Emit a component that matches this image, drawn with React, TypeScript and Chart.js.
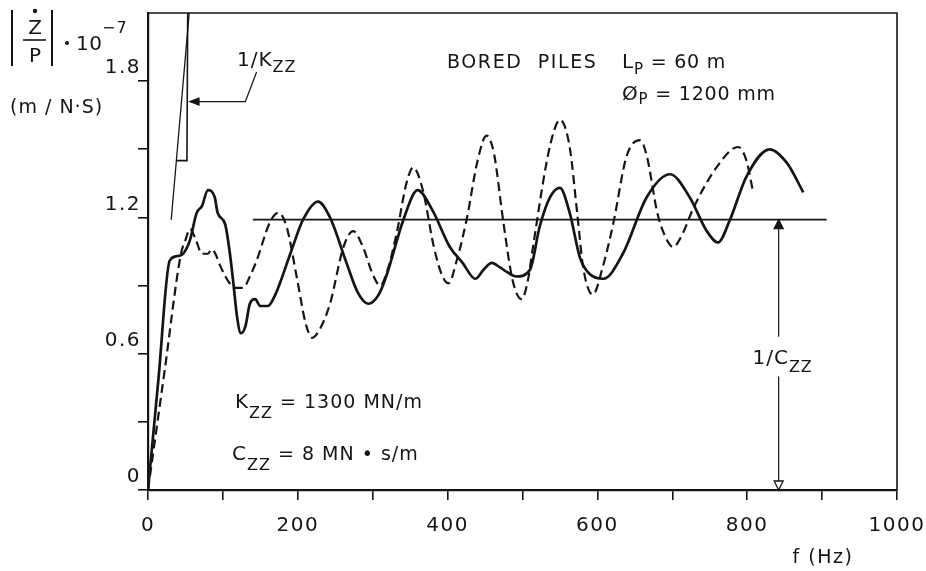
import React, { useEffect, useRef } from "react";
import { Chart, registerables } from "chart.js";

Chart.register(...registerables);

const W = 926;
const H = 571;
const FONT = '"DejaVu Sans", sans-serif';
const INK = "#151515";

// ---- axes ----
const xTickValues = [0, 100, 200, 300, 400, 500, 600, 700, 800, 900, 1000];
const xTickLabels = ["0", "", "200", "", "400", "", "600", "", "800", "", "1000"];
const yTickValues = [0, 0.3, 0.6, 0.9, 1.2, 1.5, 1.8];
const yTickLabels = ["0", "", "0.6", "", "1.2", "", "1.8"];

// ---- solid curve (measured) ----
const solidHz = [0, 14, 29, 40, 47, 56, 65, 72, 80, 89, 93, 103, 109, 114, 119, 124, 130, 136, 143, 150, 160, 170, 190, 207, 227, 243, 265, 280, 294, 308, 319, 341, 360, 380, 403, 420, 437, 448, 459, 470, 479, 492, 510, 523, 537, 550, 563, 577, 590, 608, 634, 666, 697, 723, 746, 761, 777, 799, 830, 853, 875];
const solidMobility = [0, 0.49, 1.01, 1.03, 1.04, 1.1, 1.22, 1.25, 1.32, 1.29, 1.22, 1.17, 1.05, 0.91, 0.76, 0.69, 0.72, 0.82, 0.84, 0.81, 0.81, 0.86, 1.04, 1.19, 1.27, 1.2, 1.0, 0.87, 0.82, 0.86, 0.95, 1.19, 1.32, 1.23, 1.07, 1.0, 0.93, 0.97, 1.0, 0.98, 0.96, 0.94, 0.97, 1.16, 1.29, 1.33, 1.22, 1.02, 0.95, 0.93, 1.04, 1.29, 1.39, 1.29, 1.14, 1.09, 1.19, 1.38, 1.5, 1.44, 1.31];

// ---- dashed curve (measured) ----
const dashedHz = [0, 22, 44, 50, 56, 64, 72, 80, 85, 90, 96, 109, 118, 127, 136, 145, 163, 174, 185, 199, 210, 219, 228, 243, 261, 274, 287, 300, 310, 320, 332, 345, 354, 367, 381, 392, 401, 413, 426, 440, 452, 462, 474, 487, 499, 507, 514, 532, 542, 550, 563, 573, 581, 594, 607, 621, 639, 657, 666, 680, 690, 701, 714, 728, 759, 788, 799, 808];
const dashedMobility = [0, 0.52, 1.04, 1.1, 1.15, 1.1, 1.04, 1.04, 1.06, 1.04, 0.99, 0.91, 0.89, 0.89, 0.94, 1.01, 1.18, 1.22, 1.16, 0.93, 0.74, 0.67, 0.7, 0.82, 1.07, 1.14, 1.07, 0.95, 0.9, 0.97, 1.13, 1.35, 1.42, 1.32, 1.08, 0.95, 0.91, 1.02, 1.2, 1.45, 1.56, 1.48, 1.19, 0.92, 0.84, 0.92, 1.07, 1.44, 1.58, 1.63, 1.51, 1.22, 0.98, 0.86, 0.98, 1.17, 1.47, 1.54, 1.47, 1.22, 1.12, 1.07, 1.13, 1.24, 1.42, 1.51, 1.45, 1.31];

// ---- annotation geometry (data units) ----
const stiffSlopeHz = [31, 55];
const stiffSlopeVal = [1.19, 2.1];
const stiffStepHz = [38, 52, 53];
const stiffStepVal = [1.45, 1.45, 2.1];
const kLeaderHz = [145, 130, 56];
const kLeaderVal = [1.84, 1.71, 1.71];
const dampLevelHz = [140, 906];
const dampLevel = 1.19;
const dampArrowHz = 842;
const dampGapVal = [0.5, 0.675];

const pts = (xs: number[], ys: number[]) => xs.map((x, i) => ({ x, y: ys[i] }));

type Part = [string, number, number];

function rich(ctx: CanvasRenderingContext2D, x: number, y: number, parts: Part[], align: "left" | "center" = "left", spacing = 1) {
  ctx.save();
  (ctx as any).letterSpacing = spacing + "px";
  ctx.textAlign = "left";
  ctx.textBaseline = "alphabetic";
  ctx.fillStyle = INK;
  let total = 0;
  for (const [t, s] of parts) {
    ctx.font = `${s}px ${FONT}`;
    total += ctx.measureText(t).width;
  }
  let cx = align === "center" ? x - total / 2 : x;
  for (const [t, s, dy] of parts) {
    ctx.font = `${s}px ${FONT}`;
    ctx.fillText(t, cx, y + dy);
    cx += ctx.measureText(t).width;
  }
  ctx.restore();
}

function arrowHead(ctx: CanvasRenderingContext2D, tx: number, ty: number, dir: "up" | "down" | "left", fill: boolean) {
  ctx.save();
  ctx.strokeStyle = INK;
  ctx.fillStyle = fill ? INK : "#fff";
  ctx.lineWidth = 1.3;
  ctx.beginPath();
  if (dir === "up") {
    ctx.moveTo(tx, ty);
    ctx.lineTo(tx - 4.5, ty + 9);
    ctx.lineTo(tx + 4.5, ty + 9);
  } else if (dir === "down") {
    ctx.moveTo(tx, ty);
    ctx.lineTo(tx - 4.5, ty - 9);
    ctx.lineTo(tx + 4.5, ty - 9);
  } else {
    ctx.moveTo(tx, ty);
    ctx.lineTo(tx + 9, ty - 3.5);
    ctx.lineTo(tx + 9, ty + 3.5);
  }
  ctx.closePath();
  ctx.fill();
  ctx.stroke();
  ctx.restore();
}

const decorPlugin = {
  id: "decor",
  beforeDraw(chart: any) {
    const ctx = chart.ctx as CanvasRenderingContext2D;
    ctx.save();
    ctx.fillStyle = "#fff";
    ctx.fillRect(0, 0, chart.width, chart.height);
    ctx.restore();
    (ctx as any).letterSpacing = "1.5px";
  },
  afterDraw(chart: any) {
    const ctx = chart.ctx as CanvasRenderingContext2D;
    (ctx as any).letterSpacing = "0px";
    const { left, right, top, bottom } = chart.chartArea;
    const xs = chart.scales.x;
    const ys = chart.scales.y;

    // frame: top and right
    ctx.save();
    ctx.strokeStyle = INK;
    ctx.lineWidth = 1.6;
    ctx.beginPath();
    ctx.moveTo(left, top);
    ctx.lineTo(right, top);
    ctx.lineTo(right, bottom);
    ctx.stroke();
    ctx.restore();

    // arrowheads
    const ax = xs.getPixelForValue(dampArrowHz);
    arrowHead(ctx, ax, ys.getPixelForValue(dampLevel), "up", true);
    arrowHead(ctx, ax, ys.getPixelForValue(0), "down", false);
    arrowHead(ctx, xs.getPixelForValue(kLeaderHz[2]), ys.getPixelForValue(kLeaderVal[2]), "left", true);

    // label of damping arrow
    const gapMid = ys.getPixelForValue((dampGapVal[0] + dampGapVal[1]) / 2);
    rich(ctx, ax + 4, gapMid + 7, [["1/C", 20, 0], ["ZZ", 16, 8]], "center", 1);

    // 1/Kzz label
    rich(ctx, 237, 66, [["1/K", 20, 0], ["ZZ", 16, 6]], "left", 1);

    // info text
    rich(ctx, 447, 68, [["BORED  PILES", 19, 0]], "left", 1.6);
    rich(ctx, 622, 68, [["L", 20, 0], ["P", 15, 6], [" = 60 m", 19, 0]], "left", 0.8);
    rich(ctx, 622, 100, [["Ø", 20, 0], ["P", 15, 4], [" = 1200 mm", 19, 0]], "left", 0.8);
    rich(ctx, 235, 408, [["K", 20, 0], ["ZZ", 16, 10], [" = 1300 MN/m", 19, 0]], "left", 1);
    rich(ctx, 232, 460, [["C", 20, 0], ["ZZ", 16, 10], [" = 8 MN • s/m", 19, 0]], "left", 1);

    // axis title x
    rich(ctx, 823, 563, [["f (Hz)", 19, 0]], "center", 1.5);

    // axis title y: |Ż/P| · 10^-7
    ctx.save();
    ctx.strokeStyle = INK;
    ctx.fillStyle = INK;
    ctx.lineWidth = 2;
    ctx.beginPath();
    ctx.moveTo(12, 10);
    ctx.lineTo(12, 66);
    ctx.moveTo(52, 10);
    ctx.lineTo(52, 66);
    ctx.stroke();
    ctx.lineWidth = 1.6;
    ctx.beginPath();
    ctx.moveTo(23, 40);
    ctx.lineTo(46, 40);
    ctx.stroke();
    ctx.beginPath();
    ctx.arc(35, 11, 2.2, 0, Math.PI * 2);
    ctx.fill();
    ctx.beginPath();
    ctx.arc(67, 43, 2, 0, Math.PI * 2);
    ctx.fill();
    ctx.restore();
    rich(ctx, 35, 34, [["Z", 20, 0]], "center", 0);
    rich(ctx, 35, 62, [["P", 20, 0]], "center", 0);
    rich(ctx, 76, 50, [["10", 20, 0]], "left", 0.5);
    rich(ctx, 102, 33, [["−7", 16, 0]], "left", 1);
    rich(ctx, 10, 113, [["(m / N·S)", 19, 0]], "left", 1);
  },
};

export default function App() {
  const ref = useRef<HTMLCanvasElement>(null);
  useEffect(() => {
    const canvas = ref.current!;
    const thin = { pointRadius: 0, borderColor: INK, fill: false, tension: 0 };
    const chart = new Chart(canvas, {
      type: "line",
      data: {
        datasets: [
          { ...thin, label: "solid", data: pts(solidHz, solidMobility), borderWidth: 2.7, cubicInterpolationMode: "monotone" } as any,
          { ...thin, label: "dashed", data: pts(dashedHz, dashedMobility), borderWidth: 2.2, borderDash: [9, 5], cubicInterpolationMode: "monotone" } as any,
          { ...thin, label: "slope", data: pts(stiffSlopeHz, stiffSlopeVal), borderWidth: 1.3 },
          { ...thin, label: "step", data: pts(stiffStepHz, stiffStepVal), borderWidth: 1.6 },
          { ...thin, label: "leader", data: pts(kLeaderHz, kLeaderVal), borderWidth: 1.2 },
          { ...thin, label: "level", data: pts(dampLevelHz, [dampLevel, dampLevel]), borderWidth: 1.7 },
          {
            ...thin,
            label: "arrow",
            data: [
              { x: dampArrowHz, y: 0 },
              { x: dampArrowHz, y: dampGapVal[0] },
              { x: dampArrowHz, y: null },
              { x: dampArrowHz, y: dampGapVal[1] },
              { x: dampArrowHz, y: dampLevel },
            ],
            borderWidth: 1.2,
            spanGaps: false,
          } as any,
        ],
      },
      options: {
        responsive: false,
        animation: false,
        events: [],
        layout: { padding: { left: 0, right: 29, top: 13, bottom: 0 } },
        plugins: { legend: { display: false }, tooltip: { enabled: false } },
        scales: {
          x: {
            type: "linear",
            min: 0,
            max: 1000,
            afterBuildTicks: (s: any) => {
              s.ticks = xTickValues.map((value) => ({ value }));
            },
            afterFit: (s: any) => {
              s.height = H - 490;
              s.paddingLeft = 0;
              s.paddingRight = 0;
            },
            ticks: {
              autoSkip: false,
              maxRotation: 0,
              padding: 14,
              color: INK,
              font: { family: FONT, size: 20 },
              callback: (_v: any, i: number) => xTickLabels[i],
            },
            grid: { drawOnChartArea: false, drawTicks: true, tickLength: 10, color: INK, lineWidth: 1.6 },
            border: { display: true, color: INK, width: 2.2 },
          },
          y: {
            type: "linear",
            min: 0,
            max: 2.1,
            afterBuildTicks: (s: any) => {
              s.ticks = yTickValues.map((value) => ({ value }));
            },
            afterFit: (s: any) => {
              s.width = 148;
              s.paddingTop = 0;
              s.paddingBottom = 0;
            },
            ticks: {
              autoSkip: false,
              padding: -3,
              labelOffset: -13,
              color: INK,
              font: { family: FONT, size: 20 },
              callback: (_v: any, i: number) => yTickLabels[i],
            },
            grid: { drawOnChartArea: false, drawTicks: true, tickLength: 10, color: INK, lineWidth: 1.6 },
            border: { display: true, color: INK, width: 2.2 },
          },
        },
      },
      plugins: [decorPlugin],
    } as any);
    return () => chart.destroy();
  }, []);
  return (
    <div style={{ position: "fixed", left: 0, top: 0, width: W, height: H, background: "#fff" }}>
      <canvas ref={ref} width={W} height={H} style={{ display: "block", width: W, height: H }} />
    </div>
  );
}
